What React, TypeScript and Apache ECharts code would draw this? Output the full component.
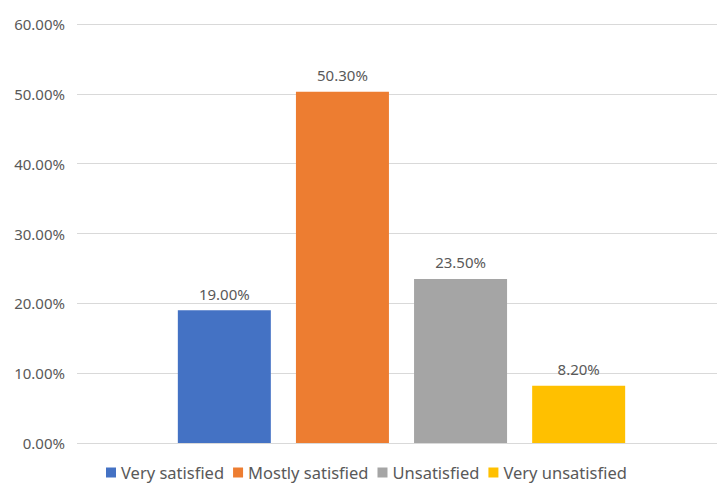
import React, { useEffect, useRef } from "react";
import * as echarts from "echarts";

const categories = ["Satisfaction"];
const seriesNames = ["Very satisfied", "Mostly satisfied", "Unsatisfied", "Very unsatisfied"];
const seriesValues = [19.0, 50.3, 23.5, 8.2];
const seriesColors = ["#4472C4", "#ED7D31", "#A5A5A5", "#FFC000"];
const yTicks = [0, 10, 20, 30, 40, 50, 60];

export default function App() {
  const ref = useRef<HTMLDivElement>(null);
  useEffect(() => {
    if (!ref.current) return;
    const chart = echarts.init(ref.current, null, { renderer: "svg" });
    const font = "'Noto Sans', 'Open Sans', sans-serif";
    chart.setOption({
      animation: false,
      backgroundColor: "#ffffff",
      grid: { left: 77, top: 24, right: 0, bottom: 42 },
      legend: {
        top: 464,
        left: 106,
        padding: 0,
        itemWidth: 10,
        itemHeight: 10,
        itemGap: 9,
        icon: "rect",
        textStyle: { color: "#595959", fontSize: 16.5, fontFamily: font, padding: [0, 0, 0, 0] },
        data: seriesNames,
      },
      xAxis: {
        type: "category",
        data: categories,
        axisLine: { show: false },
        axisTick: { show: false },
        axisLabel: { show: false },
      },
      yAxis: {
        type: "value",
        min: yTicks[0],
        max: yTicks[yTicks.length - 1],
        interval: 10,
        axisLine: { show: false },
        axisTick: { show: false },
        axisLabel: {
          formatter: (v: number) => v.toFixed(2) + "%",
          color: "#595959",
          fontSize: 15,
          fontFamily: font,
          margin: 12,
        },
        splitLine: { lineStyle: { color: "#d9d9d9", width: 1 } },
      },
      series: seriesNames.map((name, i) => ({
        name,
        type: "bar",
        data: [seriesValues[i]],
        barWidth: 93,
        barGap: "27%",
        itemStyle: { color: seriesColors[i] },
        label: {
          show: true,
          position: "top",
          distance: 9,
          formatter: (p: any) => p.value.toFixed(2) + "%",
          color: "#595959",
          fontSize: 15,
          fontFamily: font,
        },
      })),
    });
    return () => chart.dispose();
  }, []);
  return (
    <div style={{ width: 717, height: 485, position: "absolute", left: 0, top: 0, overflow: "hidden", background: "#fff" }}>
      <div ref={ref} style={{ width: 726, height: 485 }} />
    </div>
  );
}
